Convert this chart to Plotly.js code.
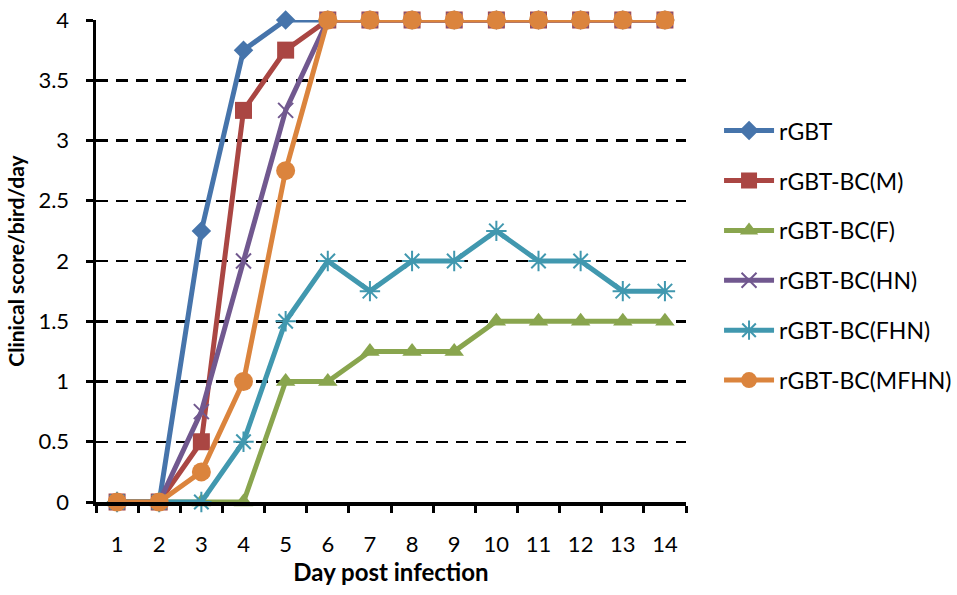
<!DOCTYPE html>
<html>
<head>
<meta charset="utf-8">
<script src="https://cdn.plot.ly/plotly-3.0.1.min.js"></script>
<style>html,body{margin:0;padding:0;background:#fff;}#chart{width:957px;height:595px;}</style>
</head>
<body>
<div id="chart"></div>
<script>
const days = ['1','2','3','4','5','6','7','8','9','10','11','12','13','14'];
const seriesNames = ['rGBT','rGBT-BC(M)','rGBT-BC(F)','rGBT-BC(HN)','rGBT-BC(FHN)','rGBT-BC(MFHN)'];
const rGBT      = [0,0,2.25,3.75,4,4,4,4,4,4,4,4,4,4];
const rGBT_M    = [0,0,0.5,3.25,3.75,4,4,4,4,4,4,4,4,4];
const rGBT_F    = [0,0,0,0,1,1,1.25,1.25,1.25,1.5,1.5,1.5,1.5,1.5];
const rGBT_HN   = [0,0,0.75,2,3.25,4,4,4,4,4,4,4,4,4];
const rGBT_FHN  = [0,0,0,0.5,1.5,2,1.75,2,2,2.25,2,2,1.75,1.75];
const rGBT_MFHN = [0,0,0.25,1,2.75,4,4,4,4,4,4,4,4,4];
const yTicks = [0,0.5,1,1.5,2,2.5,3,3.5,4];

const values = [rGBT, rGBT_M, rGBT_F, rGBT_HN, rGBT_FHN, rGBT_MFHN];
const colors = ['#4674AB','#AA4643','#89A54E','#71588F','#4198AF','#DB843D'];
const symbols = ['diamond','square','triangle-up','x-thin-open','asterisk-open','circle'];
const sizes = [15,17,17,15,17,19];

const traces = values.map((v,i)=>({
  x: days, y: v, name: seriesNames[i], type:'scatter', mode:'lines+markers',
  legendgroup: 'g'+i,
  line:{color:colors[i], width:5},
  marker:{symbol:symbols[i], size:sizes[i], color:colors[i],
          line:{color:colors[i], width: (symbols[i].indexOf('open')>=0)?2:0}},
  cliponaxis:false
}));

const layout = {
  width:957, height:595,
  margin:{l:96, r:271, t:20, b:93, autoexpand:false},
  paper_bgcolor:'#fff', plot_bgcolor:'#fff',
  font:{family:'Lato, "Open Sans", sans-serif', size:20, color:'#000'},
  xaxis:{
    type:'category', range:[-0.5,13.5],
    showline:true, linecolor:'#000', linewidth:3.5,
    ticks:'outside', tickson:'boundaries', ticklen:7, tickwidth:3, tickcolor:'#000',
    ticklabelstandoff:20,
    showgrid:false, zeroline:false,
    tickfont:{size:22},
    title:{text:'<b>Day post infection</b>', font:{size:24}, standoff:8}
  },
  yaxis:{
    range:[0,4], tickvals:yTicks, ticktext:yTicks.map(String),
    showline:true, linecolor:'#000', linewidth:3.5,
    ticks:'outside', ticklen:7, tickwidth:3, tickcolor:'#000',
    ticklabelstandoff:12,
    showgrid:true, gridcolor:'#000', gridwidth:2.5, griddash:'12px,8px',
    zeroline:false,
    tickfont:{size:22},
    title:{text:'<b>Clinical score/bird/day</b>', font:{size:21}, standoff:9}
  },
  legend:{x:1.056, y:0.815, xanchor:'left', yanchor:'top', tracegroupgap:17, itemwidth:50,
          font:{size:23}, bgcolor:'rgba(0,0,0,0)'},
  showlegend:true
};

Plotly.newPlot('chart', traces, layout, {displayModeBar:false, staticPlot:true});
</script>
</body>
</html>
